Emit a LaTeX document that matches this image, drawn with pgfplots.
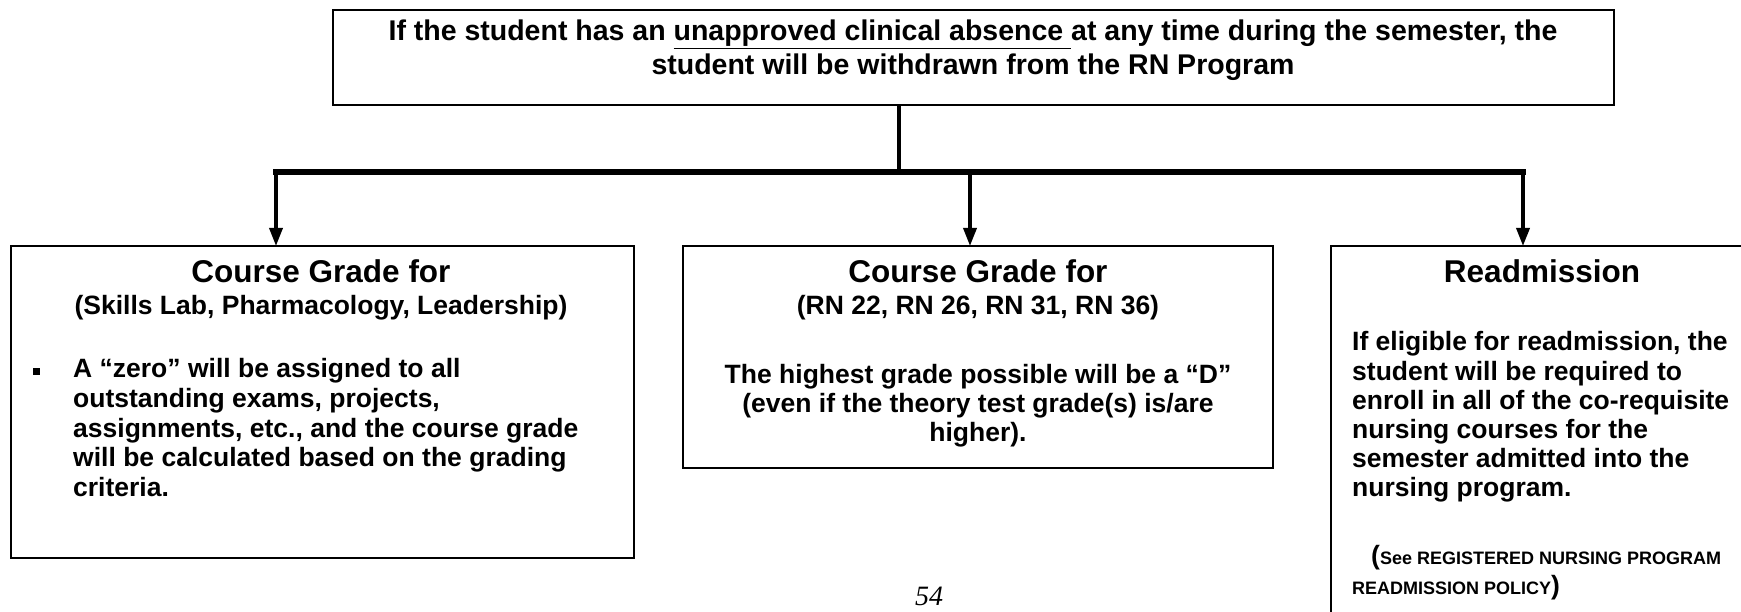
\documentclass[border=0pt]{standalone}
\usepackage{pgfplots}
\pgfplotsset{compat=1.18}
\usetikzlibrary{arrows.meta}
\usepackage{fontspec}
\setmainfont{Liberation Sans}
\newfontfamily\serif{Liberation Serif}
\newcommand\body{\fontsize{26.5}{30}\selectfont\bfseries}
\newcommand\ttl{\fontsize{31.5}{36}\selectfont\bfseries}
\newcommand\sml{\fontsize{18}{22}\selectfont\bfseries}
\begin{document}
\begin{tikzpicture}
\begin{axis}[width=1741pt,height=612pt,scale only axis,
  xmin=0,xmax=1741,ymin=0,ymax=612,y dir=reverse,hide axis,clip=true]
% boxes
\addplot[black,line width=2pt,line cap=rect,line join=miter] coordinates {(333,10) (1614,10) (1614,105) (333,105) (333,10)};
\addplot[black,line width=2pt,line cap=rect,line join=miter] coordinates {(11,246) (634,246) (634,558) (11,558) (11,246)};
\addplot[black,line width=2pt,line cap=rect,line join=miter] coordinates {(683,246) (1273,246) (1273,468) (683,468) (683,246)};
\addplot[black,line width=2pt,line cap=rect,line join=miter] coordinates {(1331,640) (1331,246) (1760,246)};
% connectors
\addplot[black,line width=4pt] coordinates {(899,105) (899,172)};
\addplot[black,line width=6pt] coordinates {(273,172) (1526,172)};
\addplot[black,line width=3.5pt,-{Triangle[width=13pt,length=18pt]}] coordinates {(276,172) (276,246)};
\addplot[black,line width=3.5pt,-{Triangle[width=13pt,length=18pt]}] coordinates {(970,172) (970,246)};
\addplot[black,line width=3.5pt,-{Triangle[width=13pt,length=18pt]}] coordinates {(1523,172) (1523,246)};
% top text
\node[anchor=mid] at (axis cs:973,38) {\fontsize{28.5}{32}\selectfont\bfseries If the student has an \underline{unapproved clinical absence\ }at any time during the semester, the};
\node[anchor=mid] at (axis cs:973,72) {\fontsize{28.5}{32}\selectfont\bfseries student will be withdrawn from the RN Program};
% left box
\node[anchor=mid] at (axis cs:321,280) {\ttl Course Grade for};
\node[anchor=mid] at (axis cs:321,312) {\body (Skills Lab, Pharmacology, Leadership)};
\node[anchor=center,inner sep=0pt] at (axis cs:36,372) {\rule{7pt}{7pt}};
\node[anchor=mid west,inner sep=0pt] at (axis cs:73,375) {\body A “zero” will be assigned to all};
\node[anchor=mid west,inner sep=0pt] at (axis cs:73,405) {\body outstanding exams, projects,};
\node[anchor=mid west,inner sep=0pt] at (axis cs:73,435) {\body assignments, etc., and the course grade};
\node[anchor=mid west,inner sep=0pt] at (axis cs:73,464) {\body will be calculated based on the grading};
\node[anchor=mid west,inner sep=0pt] at (axis cs:73,494) {\body criteria.};
% middle box
\node[anchor=mid] at (axis cs:978,280) {\ttl Course Grade for};
\node[anchor=mid] at (axis cs:978,312) {\body (RN 22, RN 26, RN 31, RN 36)};
\node[anchor=mid] at (axis cs:978,381) {\body The highest grade possible will be a “D”};
\node[anchor=mid] at (axis cs:978,410) {\body (even if the theory test grade(s) is/are};
\node[anchor=mid] at (axis cs:978,439) {\body higher).};
% right box
\node[anchor=mid] at (axis cs:1542,280) {\ttl Readmission};
\node[anchor=mid west,inner sep=0pt] at (axis cs:1352,348) {\body If eligible for readmission, the};
\node[anchor=mid west,inner sep=0pt] at (axis cs:1352,378) {\body student will be required to};
\node[anchor=mid west,inner sep=0pt] at (axis cs:1352,407) {\body enroll in all of the co-requisite};
\node[anchor=mid west,inner sep=0pt] at (axis cs:1352,436) {\body nursing courses for the};
\node[anchor=mid west,inner sep=0pt] at (axis cs:1352,465) {\body semester admitted into the};
\node[anchor=mid west,inner sep=0pt] at (axis cs:1352,494) {\body nursing program.};
\node[anchor=mid west,inner sep=0pt] at (axis cs:1371,562) {\body (\sml See REGISTERED NURSING PROGRAM};
\node[anchor=mid west,inner sep=0pt] at (axis cs:1352,592) {\sml READMISSION POLICY\body)};
% page number
\node[anchor=center] at (axis cs:929,596) {\serif\itshape\fontsize{28}{32}\selectfont 54};
\end{axis}
\pgfresetboundingbox
\path (0,0) rectangle (1741pt,612pt);
\end{tikzpicture}
\end{document}
